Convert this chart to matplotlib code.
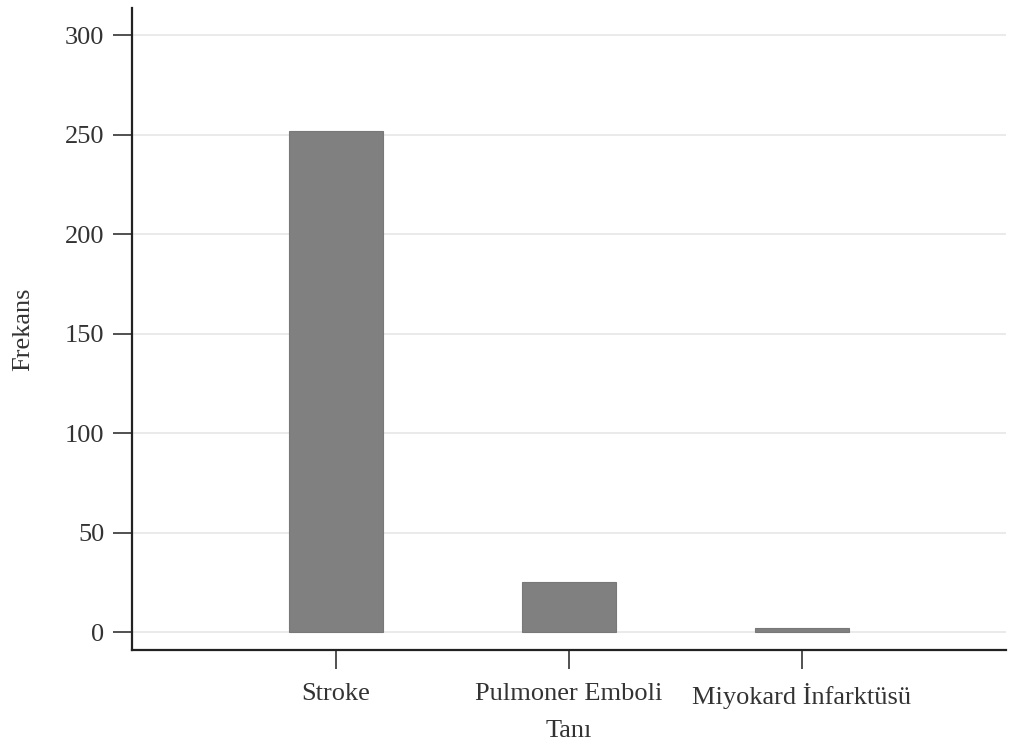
import numpy as np
import matplotlib
matplotlib.use('Agg')
from matplotlib import pyplot as plt

# Frequency of each diagnosis
categories = ['Stroke', 'Pulmoner Emboli', 'Miyokard İnfarktüsü']
counts = [252, 25, 2]
yticks = [0, 50, 100, 150, 200, 250, 300]

plt.rcParams['font.family'] = ['Liberation Serif', 'DejaVu Serif']

fig = plt.figure(figsize=(10.11, 7.45), dpi=100)
ax = fig.add_axes([0.1306, 0.1275, 0.8644, 0.8615])

x = np.arange(1, len(categories) + 1)
ax.bar(x, counts, width=0.4, color='#808080', edgecolor='#787878', linewidth=0.8, zorder=3)

ax.set_xlim(0.125, 3.875)
ax.set_ylim(-9, 313.5)
ax.set_yticks(yticks)
ax.set_xticks(x)
ax.set_xticklabels(categories)

ax.yaxis.grid(True, color='#e6e6e6', linewidth=1.2, zorder=0)
ax.set_axisbelow(True)

for side in ['top', 'right']:
    ax.spines[side].set_visible(False)
for side in ['left', 'bottom']:
    ax.spines[side].set_linewidth(1.6)
    ax.spines[side].set_color('#222222')

ax.tick_params(axis='both', direction='out', length=14, width=1.2, color='#333333',
               labelsize=19, labelcolor='#333333')
ax.tick_params(axis='x', pad=10)
ax.tick_params(axis='y', pad=6)

ax.set_ylabel('Frekans', fontsize=19, color='#333333', labelpad=22)
ax.set_xlabel('Tanı', fontsize=19, color='#333333', labelpad=8)

fig.savefig('out.png', dpi=100)
